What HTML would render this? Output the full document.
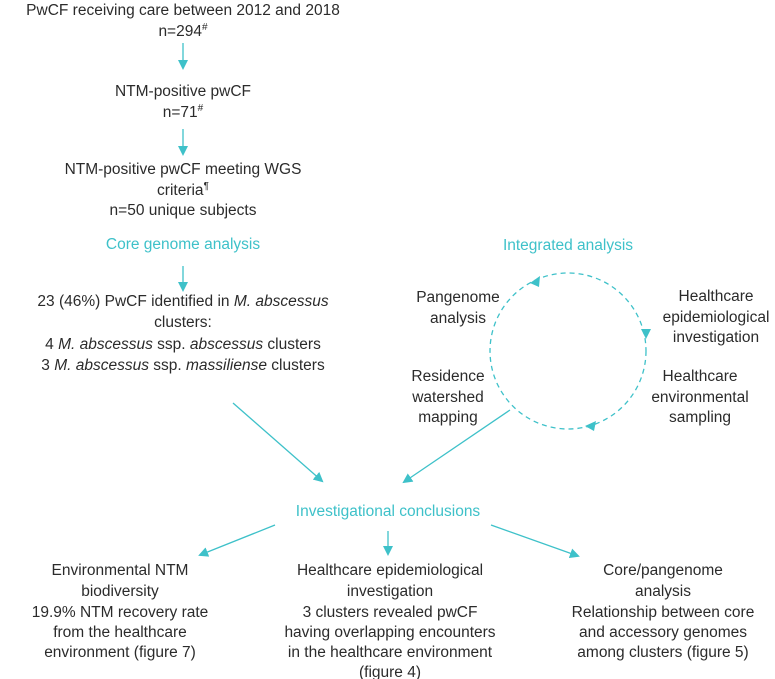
<!DOCTYPE html>
<html><head><meta charset="utf-8"><style>
html,body{margin:0;padding:0;background:#fff;width:775px;height:679px;overflow:hidden}
svg text{font-family:"Liberation Sans",sans-serif;font-size:15.5px;fill:#2b2b2b}
svg text.t{fill:#3ec1c9}
</style></head><body>
<svg width="775" height="679" viewBox="0 0 775 679" xmlns="http://www.w3.org/2000/svg">
<defs>
<marker id="a" markerWidth="10" markerHeight="10" refX="8" refY="5" orient="auto" markerUnits="userSpaceOnUse">
<path d="M0,0 L10,5 L0,10 z" fill="#3ec1c9"/></marker>
</defs>
<g text-anchor="middle">
<text x="183" y="15">PwCF receiving care between 2012 and 2018</text>
<text x="183" y="36">n=294<tspan font-size="10" dy="-6">#</tspan></text>
<text x="183" y="96">NTM-positive pwCF</text>
<text x="183" y="117">n=71<tspan font-size="10" dy="-6">#</tspan></text>
<text x="183" y="174">NTM-positive pwCF meeting WGS</text>
<text x="183" y="195">criteria<tspan font-size="10" dy="-6">¶</tspan></text>
<text x="183" y="215">n=50 unique subjects</text>
<text class="t" x="183" y="249">Core genome analysis</text>
<text x="183" y="306">23 (46%) PwCF identified in <tspan font-style="italic">M. abscessus</tspan></text>
<text x="183" y="327">clusters:</text>
<text x="183" y="349">4 <tspan font-style="italic">M. abscessus</tspan> ssp. <tspan font-style="italic">abscessus</tspan> clusters</text>
<text x="183" y="370">3 <tspan font-style="italic">M. abscessus</tspan> ssp. <tspan font-style="italic">massiliense</tspan> clusters</text>

<text class="t" x="568" y="250">Integrated analysis</text>
<text x="458" y="302">Pangenome</text>
<text x="458" y="323">analysis</text>
<text x="716" y="301">Healthcare</text>
<text x="716" y="322">epidemiological</text>
<text x="716" y="342">investigation</text>
<text x="448" y="381">Residence</text>
<text x="448" y="402">watershed</text>
<text x="448" y="422">mapping</text>
<text x="700" y="381">Healthcare</text>
<text x="700" y="402">environmental</text>
<text x="700" y="422">sampling</text>

<text class="t" x="388" y="516">Investigational conclusions</text>
<text x="120" y="575">Environmental NTM</text>
<text x="120" y="596">biodiversity</text>
<text x="120" y="617">19.9% NTM recovery rate</text>
<text x="120" y="637">from the healthcare</text>
<text x="120" y="657">environment (figure 7)</text>
<text x="390" y="575">Healthcare epidemiological</text>
<text x="390" y="596">investigation</text>
<text x="390" y="617">3 clusters revealed pwCF</text>
<text x="390" y="637">having overlapping encounters</text>
<text x="390" y="657">in the healthcare environment</text>
<text x="390" y="677">(figure 4)</text>
<text x="663" y="575">Core/pangenome</text>
<text x="663" y="596">analysis</text>
<text x="663" y="617">Relationship between core</text>
<text x="663" y="637">and accessory genomes</text>
<text x="663" y="657">among clusters (figure 5)</text>
</g>
<g stroke="#3ec1c9" stroke-width="1.3" fill="none">
<line x1="183" y1="43" x2="183" y2="68" marker-end="url(#a)"/>
<line x1="183" y1="129" x2="183" y2="154" marker-end="url(#a)"/>
<line x1="183" y1="266" x2="183" y2="290" marker-end="url(#a)"/>
<line x1="233" y1="403" x2="322" y2="481" marker-end="url(#a)"/>
<line x1="510" y1="410" x2="404" y2="482" marker-end="url(#a)"/>
<line x1="275" y1="525" x2="200" y2="555" marker-end="url(#a)"/>
<line x1="388" y1="531" x2="388" y2="554" marker-end="url(#a)"/>
<line x1="491" y1="525" x2="578" y2="556" marker-end="url(#a)"/>
<circle cx="568" cy="351" r="78" stroke-dasharray="5,4"/>
</g>
<g fill="#3ec1c9">
<path d="M530,283 l10,-7 l-1,11 z"/>
<path d="M641,329 l10,0 l-5,10 z"/>
<path d="M596,421 l-2,10 l-9,-5 z"/>
</g>
</svg>
</body></html>
